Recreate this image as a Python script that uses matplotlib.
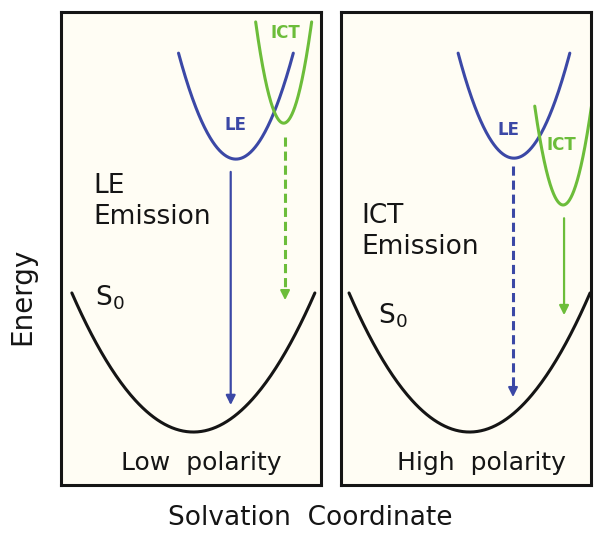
import numpy as np
import matplotlib.pyplot as plt

# panel titles
panels = ["Low  polarity", "High  polarity"]
big_labels = ["LE\nEmission", "ICT\nEmission"]

# ground state S0 well (vertex q, vertex E, curvature, top E) per panel
s0_q = [2.80, 2.72]
s0_e = [1.12, 1.12]
s0_k = [0.445, 0.452]
s0_top = [4.06, 4.06]

# LE excited state well
le_q = [3.70, 3.66]
le_e = [6.89, 6.91]
le_k = [1.52, 1.59]
le_top = [9.13, 9.13]

# ICT excited state well
ict_q = [4.71, 4.70]
ict_e = [7.65, 5.92]
ict_k = [6.1, 5.8]
ict_top = [9.79, 8.01]

# emission arrows (q, start E, tip E, dashed?)
le_arrow_q = [3.59, 3.64]
le_arrow_from = [6.62, 6.74]
le_arrow_to = [1.69, 1.80]
le_arrow_dashed = [False, True]
ict_arrow_q = [4.74, 4.72]
ict_arrow_from = [7.36, 5.64]
ict_arrow_to = [3.85, 3.59]
ict_arrow_dashed = [True, False]

# label positions
le_lab = [(3.70, 7.61), (3.55, 7.51)]
ict_lab = [(4.74, 9.56), (4.67, 7.19)]
big_lab = [(0.68, 6.60), (0.44, 5.96)]
s0_lab = [(0.72, 4.27), (0.78, 3.87)]
title_pos = [(2.96, 0.72), (2.98, 0.72)]
xmax = [5.50, 5.29]

blue = '#3b48a6'
green = '#6cbd3a'
black = '#151515'
panel_bg = '#fffdf4'

fig = plt.figure(figsize=(5.95, 5.33), dpi=100)
axes = [fig.add_axes([61 / 595, 48 / 533, 260 / 595, 473 / 533]),
        fig.add_axes([341 / 595, 48 / 533, 250 / 595, 473 / 533])]


def well(ax, q0, e0, k, top, color):
    half = np.sqrt((top - e0) / k)
    q = np.linspace(q0 - half, q0 + half, 200)
    ax.plot(q, e0 + k * (q - q0) ** 2, color=color, lw=2.2, solid_capstyle='round')


def arrow(ax, q, e_from, e_to, dashed, color):
    if dashed:
        ax.plot([q, q], [e_from, e_to + 0.2], color=color, lw=2.2, ls=(0, (3, 1.6)))
        ax.annotate('', xy=(q, e_to), xytext=(q, e_to + 0.3),
                    arrowprops=dict(arrowstyle='-|>', color=color, lw=1.5, mutation_scale=14))
    else:
        ax.annotate('', xy=(q, e_to), xytext=(q, e_from),
                    arrowprops=dict(arrowstyle='-|>', color=color, lw=1.6, mutation_scale=14,
                                    shrinkA=0, shrinkB=0))


for i, ax in enumerate(axes):
    ax.set_facecolor(panel_bg)
    ax.set_xlim(0, xmax[i])
    ax.set_ylim(0, 10)
    ax.set_xticks([])
    ax.set_yticks([])
    for s in ax.spines.values():
        s.set_linewidth(2.2)
        s.set_color(black)

    well(ax, s0_q[i], s0_e[i], s0_k[i], s0_top[i], black)
    well(ax, le_q[i], le_e[i], le_k[i], le_top[i], blue)
    well(ax, ict_q[i], ict_e[i], ict_k[i], ict_top[i], green)

    arrow(ax, le_arrow_q[i], le_arrow_from[i], le_arrow_to[i], le_arrow_dashed[i], blue)
    arrow(ax, ict_arrow_q[i], ict_arrow_from[i], ict_arrow_to[i], ict_arrow_dashed[i], green)

    ax.text(*le_lab[i], 'LE', color=blue, fontsize=12, fontweight='bold', ha='center', va='center')
    ax.text(*ict_lab[i], 'ICT', color=green, fontsize=12, fontweight='bold', ha='center', va='center')
    ax.text(*big_lab[i], big_labels[i], color=black, fontsize=19, ha='left', va='top', linespacing=1.25)
    ax.text(*s0_lab[i], 'S$_0$', color=black, fontsize=19, ha='left', va='top')
    ax.text(*title_pos[i], panels[i], color=black, fontsize=18, ha='center', va='top')

fig.text(310 / 595, 1 - 518 / 533, 'Solvation  Coordinate', fontsize=19, ha='center', va='center', color=black)
fig.text(22 / 595, 1 - 296 / 533, 'Energy', fontsize=20, rotation=90, ha='center', va='center', color=black)

fig.savefig('out.png', dpi=100, facecolor='white')
